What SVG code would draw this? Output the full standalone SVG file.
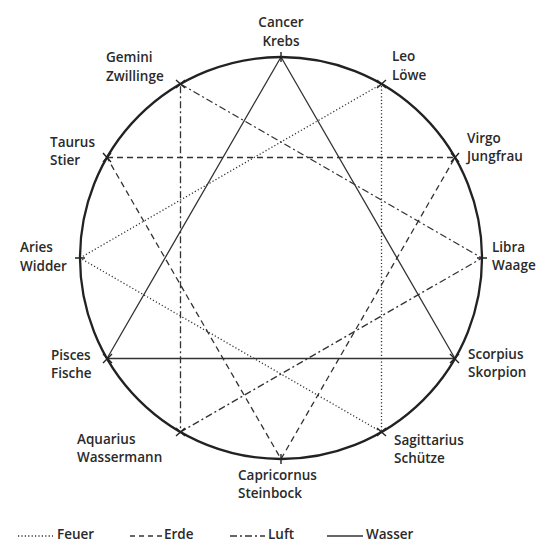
<svg xmlns="http://www.w3.org/2000/svg" width="538" height="543" viewBox="0 0 538 543">
<defs>
<style>
.lbl{font-family:"Open Sans","Noto Sans",sans-serif;font-size:13.5px;font-weight:600;fill:#2a2a2a}
.ln{fill:none;stroke:#333;stroke-width:1.3}
.fire{stroke-dasharray:1.2 2.2}
.earth{stroke-dasharray:6 4}
.air{stroke-dasharray:7 3 2 3}
.tick{stroke:#222;stroke-width:1.4;fill:none}
</style>
</defs>
<rect width="538" height="543" fill="#fff"/>
<circle cx="281" cy="258" r="201" fill="none" stroke="#222" stroke-width="2.3"/>
<g id="connectors">
<polygon class="ln" points="281,57 455,358.5 107,358.5"/>
<polygon class="ln fire" points="80,258 381.5,84 381.5,432"/>
<polygon class="ln earth" points="107,157.5 455,157.5 281,459"/>
<polygon class="ln air" points="180.5,84 482,258 180.5,432"/>
</g>
<g id="cancer"><path class="tick" d="M281,52v10M277,57h8"/><text class="lbl" x="281" y="27" text-anchor="middle">Cancer</text><text class="lbl" x="281" y="46" text-anchor="middle">Krebs</text></g>
<g id="leo"><path class="tick" d="M377,80l9,8M377,88l9,-8"/><text class="lbl" x="392" y="61">Leo</text><text class="lbl" x="392" y="80">Löwe</text></g>
<g id="virgo"><path class="tick" d="M451,153l8,9M451,162l8,-9"/><text class="lbl" x="467" y="143">Virgo</text><text class="lbl" x="467" y="161">Jungfrau</text></g>
<g id="libra"><path class="tick" d="M482,253v10M477,258h10"/><text class="lbl" x="492" y="252">Libra</text><text class="lbl" x="492" y="270">Waage</text></g>
<g id="scorpius"><path class="tick" d="M450,354l9,9M450,363l9,-9"/><text class="lbl" x="468" y="359">Scorpius</text><text class="lbl" x="468" y="377">Skorpion</text></g>
<g id="sagittarius"><path class="tick" d="M377,428l9,8M377,436l9,-8"/><text class="lbl" x="394" y="445">Sagittarius</text><text class="lbl" x="394" y="463">Schütze</text></g>
<g id="capricornus"><path class="tick" d="M281,454v10M276,459h10"/><text class="lbl" x="238" y="480">Capricornus</text><text class="lbl" x="238" y="498">Steinbock</text></g>
<g id="aquarius"><path class="tick" d="M176,428l9,8M176,436l9,-8"/><text class="lbl" x="77" y="444">Aquarius</text><text class="lbl" x="77" y="462">Wassermann</text></g>
<g id="pisces"><path class="tick" d="M103,354l9,9M103,363l9,-9"/><text class="lbl" x="51" y="360">Pisces</text><text class="lbl" x="51" y="378">Fische</text></g>
<g id="aries"><path class="tick" d="M80,253v10M75,258h10"/><text class="lbl" x="20" y="252">Aries</text><text class="lbl" x="20" y="271">Widder</text></g>
<g id="taurus"><path class="tick" d="M103,153l8,9M103,162l8,-9"/><text class="lbl" x="50" y="147">Taurus</text><text class="lbl" x="50" y="165">Stier</text></g>
<g id="gemini"><path class="tick" d="M176,80l9,8M176,88l9,-8"/><text class="lbl" x="106" y="62">Gemini</text><text class="lbl" x="106" y="81">Zwillinge</text></g>
<g id="legend">
<line class="ln fire" x1="18" y1="536" x2="53" y2="536"/><text class="lbl" x="57" y="539">Feuer</text>
<line class="ln earth" x1="130" y1="536" x2="162" y2="536" style="stroke-dasharray:5 4"/><text class="lbl" x="164" y="539">Erde</text>
<line class="ln air" x1="230" y1="536" x2="265" y2="536"/><text class="lbl" x="268" y="539">Luft</text>
<line class="ln" x1="327" y1="536" x2="363" y2="536"/><text class="lbl" x="366" y="539">Wasser</text>
</g>
</svg>
